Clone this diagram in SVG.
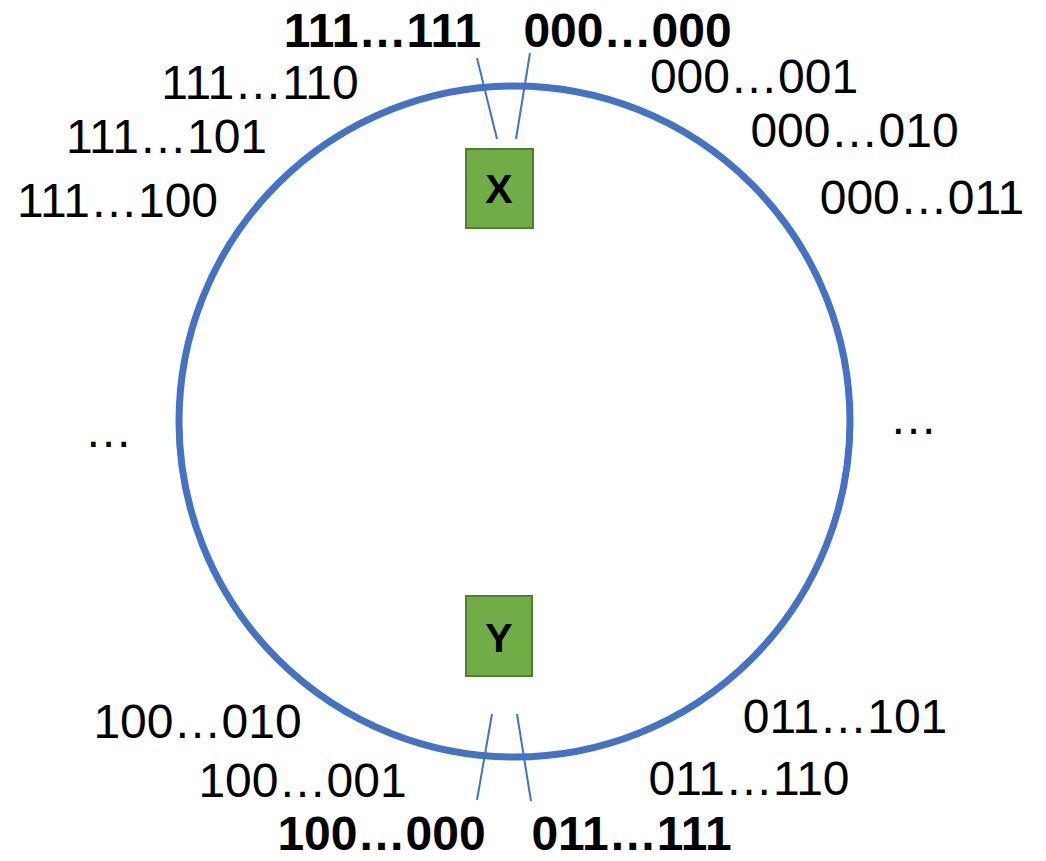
<svg xmlns="http://www.w3.org/2000/svg" width="1046" height="861" viewBox="0 0 1046 861">
<style>
.lbl{font-family:"Liberation Sans",Arial,sans-serif;font-size:48px;fill:#000;text-anchor:middle}
.b{font-weight:bold}
.node rect{fill:#70AD47;stroke:#507E32;stroke-width:2}
.node text{font-family:"Liberation Sans",Arial,sans-serif;font-size:41px;font-weight:bold;fill:#000;text-anchor:middle}
.conn line{stroke:#4472C4;stroke-width:2}
</style>
<rect width="1046" height="861" fill="#fff"/>
<circle id="ring" cx="514.5" cy="421.5" r="335.5" fill="none" stroke="#4472C4" stroke-width="7"/>
<g id="connectors" class="conn">
<line x1="477" y1="58" x2="497" y2="139"/>
<line x1="530" y1="53" x2="516" y2="139"/>
<line x1="492" y1="714" x2="477" y2="800"/>
<line x1="517" y1="714" x2="531" y2="801"/>
</g>
<g id="node-x" class="node">
<rect x="466" y="149" width="67" height="79"/>
<text x="499" y="203">X</text>
</g>
<g id="node-y" class="node">
<rect x="466" y="596" width="66" height="80"/>
<text x="499" y="652">Y</text>
</g>
<g id="labels">
<text class="lbl b" x="382.5" y="47">111…111</text>
<text class="lbl b" x="627.5" y="47">000…000</text>
<text class="lbl" x="260" y="99">111…110</text>
<text class="lbl" x="754" y="93">000…001</text>
<text class="lbl" x="166.5" y="153">111…101</text>
<text class="lbl" x="854.5" y="147">000…010</text>
<text class="lbl" x="117.5" y="217">111…100</text>
<text class="lbl" x="922" y="214">000…011</text>
<text class="lbl" x="108.5" y="447">…</text>
<text class="lbl" x="913.5" y="434">…</text>
<text class="lbl" x="197.5" y="738">100…010</text>
<text class="lbl" x="302.5" y="797">100…001</text>
<text class="lbl b" x="381.5" y="850">100…000</text>
<text class="lbl" x="845" y="733">011…101</text>
<text class="lbl" x="749" y="795">011…110</text>
<text class="lbl b" x="631.5" y="850">011…111</text>
</g>
</svg>
